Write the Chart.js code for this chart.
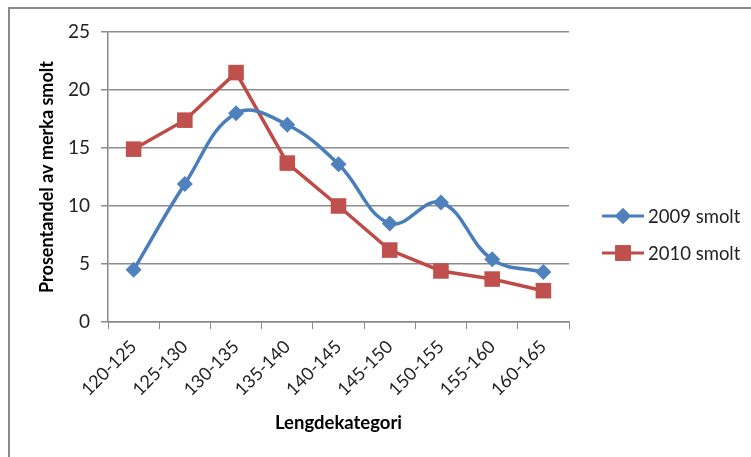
<!DOCTYPE html>
<html lang="en">
<head>
  <meta charset="UTF-8" />
  <title>Lengdekategori</title>
  <script src="https://cdn.jsdelivr.net/npm/chart.js"></script>
  <style>
    html, body { margin: 0; padding: 0; background: #fff; }
    #wrap { position: relative; width: 751px; height: 457px; }
    #frame {
      position: absolute; left: 8px; top: 7px; width: 743px; height: 450px;
      border-top: 2px solid #8a8a8a; border-left: 2px solid #8a8a8a;
      pointer-events: none;
    }
  </style>
</head>
<body>
  <div id="wrap">
    <canvas id="chart" width="751" height="457"></canvas>
    <div id="frame"></div>
  </div>

  <script>
    const categories = ["120-125", "125-130", "130-135", "135-140", "140-145", "145-150", "150-155", "155-160", "160-165"];
    const smolt2009 = [4.5, 11.9, 18.0, 17.0, 13.6, 8.5, 10.3, 5.4, 4.3];
    const smolt2010 = [14.9, 17.4, 21.5, 13.7, 10.0, 6.2, 4.4, 3.7, 2.7];
    const yTicks = [0, 5, 10, 15, 20, 25];

    const BLUE = "#4a7ebb";
    const RED = "#be4b48";
    const FONT = "Lato, 'Open Sans', sans-serif";

    // legend drawn by hand: line with marker, like the original
    const sideLegend = {
      id: "sideLegend",
      afterDraw(chart) {
        const ctx = chart.ctx;
        chart.data.datasets.forEach((ds, i) => {
          const y = 216 + i * 37;
          ctx.save();
          ctx.strokeStyle = ds.borderColor;
          ctx.lineWidth = 3;
          ctx.beginPath();
          ctx.moveTo(602, y);
          ctx.lineTo(644, y);
          ctx.stroke();
          ctx.fillStyle = ds.pointBackgroundColor;
          Chart.helpers.drawPoint(ctx, { pointStyle: ds.pointStyle, radius: ds.pointRadius, borderWidth: 0 }, 623, y);
          ctx.fill();
          ctx.fillStyle = "#222";
          ctx.font = "18.5px " + FONT;
          ctx.textBaseline = "middle";
          ctx.fillText(ds.label, 648, y + 1);
          ctx.restore();
        });
      }
    };

    new Chart(document.getElementById("chart"), {
      type: "line",
      data: {
        labels: categories,
        datasets: [
          {
            label: "2009 smolt",
            data: smolt2009,
            borderColor: BLUE,
            borderWidth: 3.5,
            tension: 0.4,
            pointStyle: "rectRot",
            pointRadius: 8,
            pointBackgroundColor: "#4f81bd",
            pointBorderWidth: 0
          },
          {
            label: "2010 smolt",
            data: smolt2010,
            borderColor: RED,
            borderWidth: 3.5,
            tension: 0,
            pointStyle: "rect",
            pointRadius: 11,
            pointBackgroundColor: "#c0504d",
            pointBorderWidth: 0
          }
        ]
      },
      options: {
        responsive: false,
        animation: false,
        layout: { padding: { left: 0, top: 32, right: 182, bottom: 0 } },
        plugins: {
          legend: { display: false },
          tooltip: { enabled: false }
        },
        scales: {
          x: {
            offset: true,
            grid: { offset: true, drawOnChartArea: false, color: "#888", tickLength: 7 },
            border: { color: "#888", width: 1.5 },
            ticks: { color: "#222", font: { family: FONT, size: 18 }, maxRotation: 45, minRotation: 45, padding: 7 },
            title: { display: true, text: "Lengdekategori", color: "#000", font: { family: FONT, size: 18.5, weight: "bold" }, padding: { bottom: 23 } },
            afterFit: s => { s.height = 135; }
          },
          y: {
            min: 0,
            max: 25,
            afterBuildTicks: s => { s.ticks = yTicks.map(v => ({ value: v })); },
            grid: { color: "#8c8c8c", lineWidth: 1.5, tickLength: 7 },
            border: { color: "#888", width: 1.5 },
            ticks: { color: "#222", font: { family: FONT, size: 19 }, padding: 11 },
            title: { display: true, text: "Prosentandel av merka smolt", color: "#000", font: { family: FONT, size: 18, weight: "bold" }, padding: { top: 36 } },
            afterFit: s => { s.width = 108; }
          }
        }
      },
      plugins: [sideLegend]
    });
  </script>
</body>
</html>
